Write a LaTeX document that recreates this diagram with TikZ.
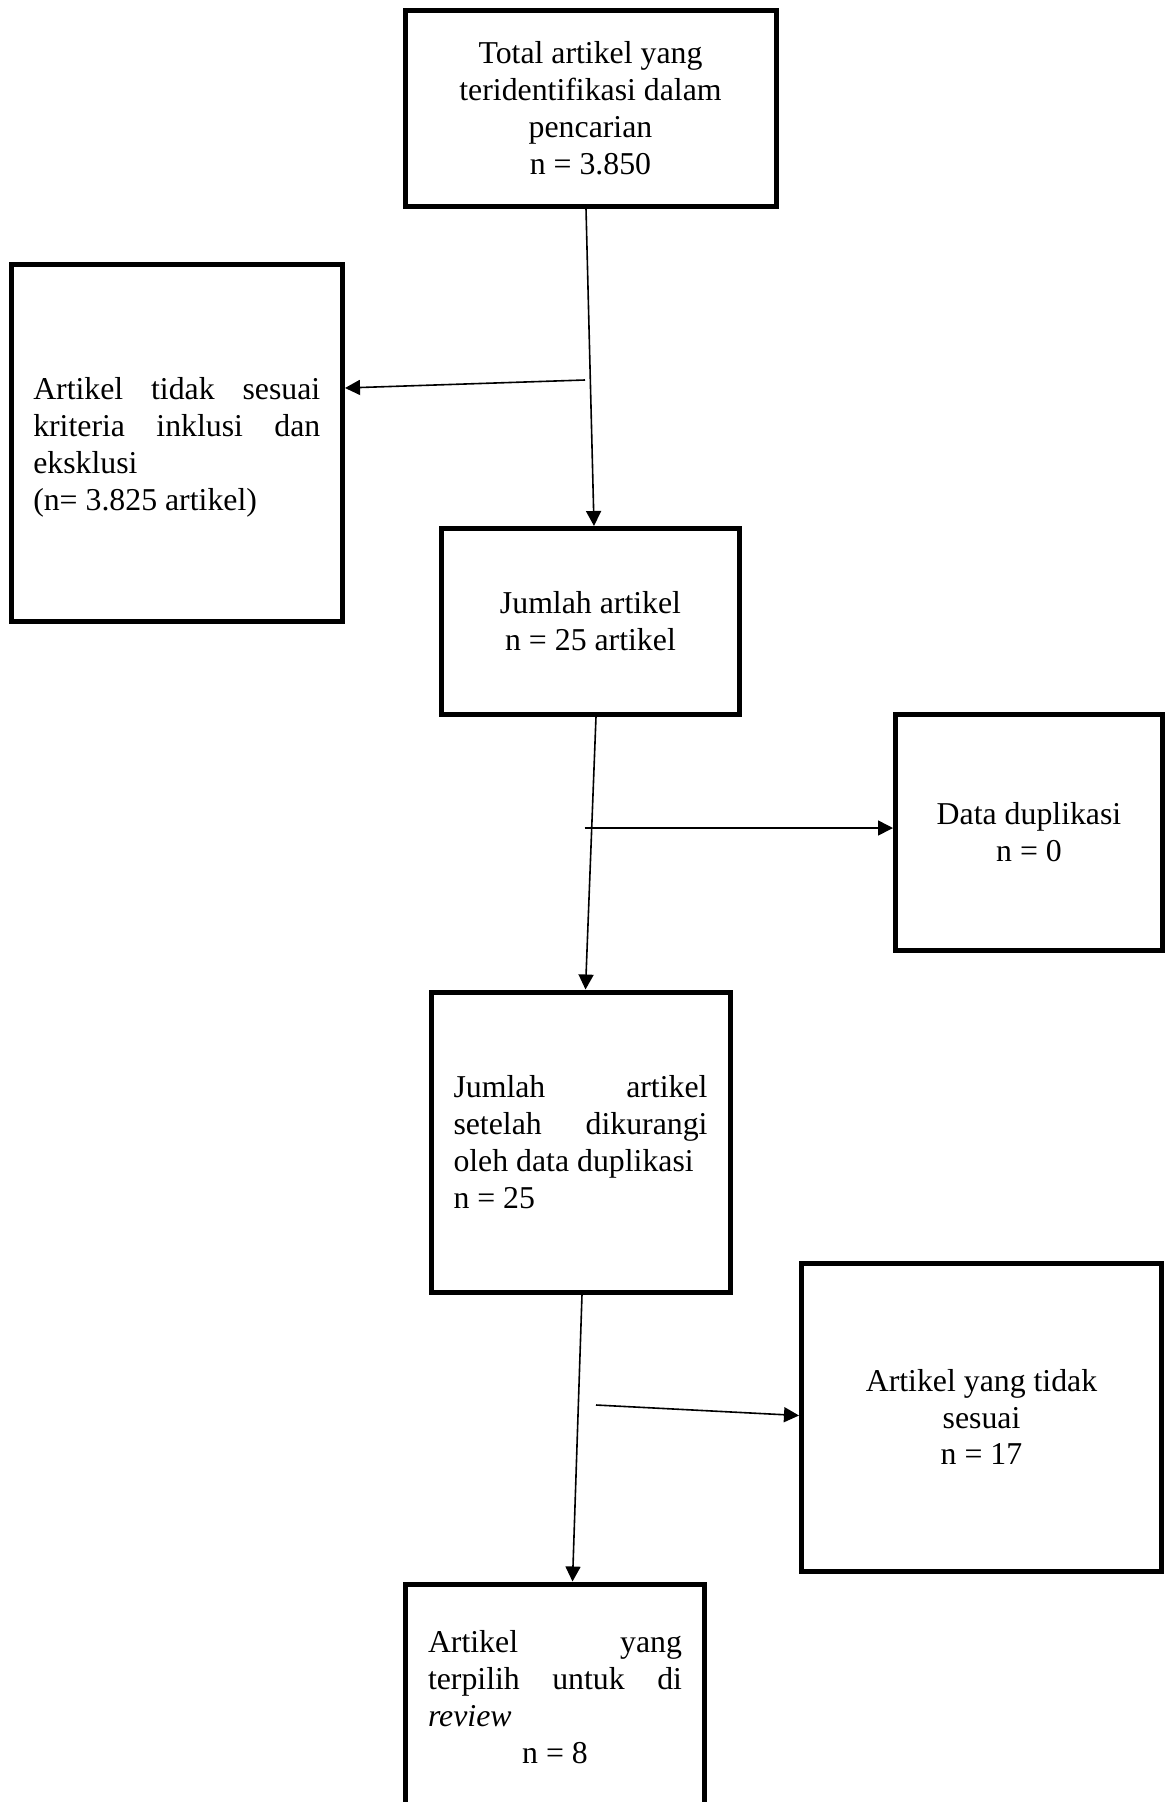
\documentclass[tikz,border=0pt]{standalone}
\usepackage{fontspec}
\setmainfont{Liberation Serif}
\usetikzlibrary{arrows.meta}
\newcommand{\jl}[2]{\makebox[#1][s]{#2}}
\begin{document}
\begin{tikzpicture}[x=1pt,y=-1pt,
  box/.style={draw, line width=5pt, inner sep=0pt, font=\fontsize{31.8}{36.8}\selectfont},
  conn/.style={line width=1.6pt, -{Triangle[length=15pt,width=15pt]}}]
\useasboundingbox (0,0) rectangle (1166,1802);
\clip (0,0) rectangle (1166,1802);
\fill[white] (0,0) rectangle (1166,1802);
\node[box, minimum width=371pt, minimum height=196pt, align=center] (b1) at (590.5,108)
  {Total artikel yang\\teridentifikasi dalam\\pencarian\\n = 3.850};
\node[box, minimum width=331.5pt, minimum height=357.5pt, align=left] (b2) at (176.75,442.75)
  {\rule{0pt}{31pt}\jl{287pt}{Artikel tidak sesuai}\\\jl{287pt}{kriteria inklusi dan}\\eksklusi\\(n= 3.825 artikel)};
\node[box, minimum width=298pt, minimum height=185.5pt, align=center] (b3) at (590.5,621.25)
  {Jumlah artikel\\n = 25 artikel};
\node[box, minimum width=267pt, minimum height=236pt, align=center] (b4) at (1029,832)
  {Data duplikasi\\n = 0};
\node[box, minimum width=299pt, minimum height=300pt, align=left] (b5) at (580.5,1142)
  {\jl{254pt}{Jumlah artikel}\\\jl{254pt}{setelah dikurangi}\\oleh data duplikasi\\n = 25};
\node[box, minimum width=360pt, minimum height=308pt, align=center] (b6) at (981.5,1417)
  {Artikel yang tidak\\sesuai\\n = 17};
\node[box, minimum width=299pt, minimum height=226pt, align=left] (b7) at (555,1697)
  {\jl{254pt}{Artikel yang}\\\jl{254pt}{terpilih untuk di}\\\textit{review}\\\makebox[254pt][c]{n = 8}};
\draw[conn] ([xshift=-4.5pt]b1.south) -- ([xshift=3.5pt]b3.north);
\coordinate (s2) at (585,380);
\draw[conn] (s2) -- ([yshift=54.75pt]b2.east);
\draw[conn] ([xshift=5.5pt]b3.south) -- ([xshift=5pt]b5.north);
\coordinate (s4) at (584.5,828);
\draw[conn] (s4) -- ([yshift=4pt]b4.west);
\draw[conn] ([xshift=1.5pt]b5.south) -- ([xshift=17.5pt]b7.north);
\coordinate (s6) at (596,1405);
\draw[conn] (s6) -- ([yshift=1.5pt]b6.west);
\end{tikzpicture}
\end{document}
